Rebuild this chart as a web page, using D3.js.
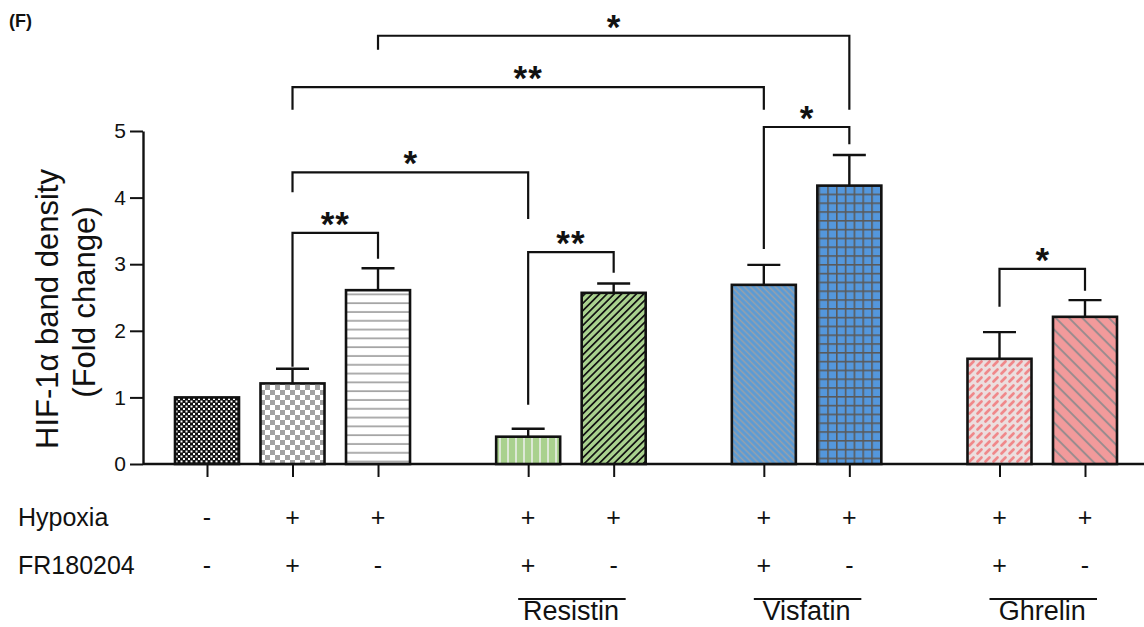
<!DOCTYPE html>
<html>
<head>
<meta charset="utf-8">
<script src="https://cdn.jsdelivr.net/npm/d3@7"></script>
<style>
  body { margin: 0; background: #fff; }
  svg { display: block; font-family: Arial, "Liberation Sans", sans-serif; }
</style>
</head>
<body>
<svg id="chart"></svg>
<script>
const svgWidth = 1144;
const svgHeight = 627;

// data
const groups = ['ctrl', 'ctrl', 'ctrl', 'Resistin', 'Resistin', 'Visfatin', 'Visfatin', 'Ghrelin', 'Ghrelin'];
const means = [1.0, 1.21, 2.61, 0.41, 2.57, 2.69, 4.18, 1.58, 2.21];
const errors = [0, 0.22, 0.33, 0.12, 0.14, 0.30, 0.46, 0.40, 0.25];
const hypoxia = ['-', '+', '+', '+', '+', '+', '+', '+', '+'];
const fr180204 = ['-', '+', '-', '+', '-', '+', '-', '+', '-'];
const patterns = ['p0', 'p1', 'p2', 'p3', 'p4', 'p5', 'p6', 'p7', 'p8'];
const yTicks = [0, 1, 2, 3, 4, 5];
const groupLabels = ['Resistin', 'Visfatin', 'Ghrelin'];
// [bar a, bar b, bracket level, left leg end, right leg end, label]  (y in data units)
const brackets = [
  [1, 2, 3.47, 1.46, 3.08, '**'],
  [1, 3, 4.38, 4.08, 3.68, '*'],
  [3, 4, 3.18, 0.89, 2.87, '**'],
  [1, 5, 5.66, 5.32, 5.32, '**'],
  [5, 6, 5.06, 3.23, 4.80, '*'],
  [2, 6, 6.43, 6.22, 5.32, '*'],
  [7, 8, 2.93, 2.36, 2.60, '*']
];

const axisX = 143;
const baseY = 464;
const topY = 131;
const barW = 64;
const gap = 0.756;

// slot position: bar index plus a gap each time the group changes
let g = 0;
const slots = groups.map((d, i) => {
  if (i > 0 && d !== groups[i - 1]) g++;
  return i + g * gap;
});

const svg = d3.select("#chart")
  .attr("width", svgWidth)
  .attr("height", svgHeight);

const xScale = d3.scaleLinear()
  .domain([0, d3.max(slots)])
  .range([207, 1085]);

const yScale = d3.scaleLinear()
  .domain([0, 5])
  .range([baseY, topY]);

// patterns
const defs = svg.append("defs");
function pat(id, w, h, bg, rot) {
  const p = defs.append("pattern")
    .attr("id", id)
    .attr("patternUnits", "userSpaceOnUse")
    .attr("width", w).attr("height", h);
  if (rot) p.attr("patternTransform", `rotate(${rot})`);
  p.append("rect").attr("width", w).attr("height", h).attr("fill", bg);
  return p;
}
let p;
p = pat("p0", 5, 5, "#111");
p.append("rect").attr("x", 0.5).attr("y", 0.5).attr("width", 2).attr("height", 2).attr("fill", "#fff");
p.append("rect").attr("x", 3).attr("y", 3).attr("width", 2).attr("height", 2).attr("fill", "#fff");

p = pat("p1", 10, 10, "#fff");
p.append("rect").attr("width", 5).attr("height", 5).attr("fill", "#a2a2a2");
p.append("rect").attr("x", 5).attr("y", 5).attr("width", 5).attr("height", 5).attr("fill", "#a2a2a2");

p = pat("p2", 10, 8.8, "#fff");
p.append("line").attr("x1", 0).attr("x2", 10).attr("y1", 4).attr("y2", 4)
  .attr("stroke", "#9a9a9a").attr("stroke-width", 1.6);

p = pat("p3", 8, 10, "#a9d18e");
p.append("line").attr("x1", 4).attr("x2", 4).attr("y1", 0).attr("y2", 10)
  .attr("stroke", "#e3ebde").attr("stroke-width", 1.8);

p = pat("p4", 5.2, 10, "#a9d18e", 45);
p.append("line").attr("x1", 2.6).attr("x2", 2.6).attr("y1", 0).attr("y2", 10)
  .attr("stroke", "#111").attr("stroke-width", 1.7);

p = pat("p5", 4.4, 10, "#5b9bd5", -45);
p.append("line").attr("x1", 2.2).attr("x2", 2.2).attr("y1", 0).attr("y2", 10)
  .attr("stroke", "#9aa0a8").attr("stroke-width", 1.5);

p = pat("p6", 8.8, 8.8, "#5497dc");
p.append("line").attr("x1", 0).attr("x2", 8.8).attr("y1", 0.8).attr("y2", 0.8)
  .attr("stroke", "#5a5a5a").attr("stroke-width", 1.6);
p.append("line").attr("x1", 0.8).attr("x2", 0.8).attr("y1", 0).attr("y2", 8.8)
  .attr("stroke", "#5a5a5a").attr("stroke-width", 1.6);

p = pat("p7", 8, 8, "#ecdede");
p.append("line").attr("x1", 1.5).attr("y1", 5.5).attr("x2", 5.5).attr("y2", 1.5)
  .attr("stroke", "#f0888a").attr("stroke-width", 2.6).attr("stroke-linecap", "round");

p = pat("p8", 9.4, 10, "#f29a9b", -45);
p.append("line").attr("x1", 4.7).attr("x2", 4.7).attr("y1", 0).attr("y2", 10)
  .attr("stroke", "#9a8c8e").attr("stroke-width", 2);

// y axis
const yAxis = d3.axisLeft(yScale)
  .tickValues(yTicks)
  .tickFormat(d3.format("d"))
  .tickSize(13)
  .tickSizeOuter(0)
  .tickPadding(4);

const yg = svg.append("g")
  .attr("id", "y-axis")
  .attr("transform", `translate(${axisX}, 0)`)
  .call(yAxis);
yg.select(".domain").attr("stroke", "#111").attr("stroke-width", 2.4);
yg.selectAll(".tick line").attr("stroke", "#111").attr("stroke-width", 2);
yg.selectAll(".tick text")
  .attr("font-size", 21)
  .attr("font-family", "Arial, 'Liberation Sans', sans-serif")
  .attr("fill", "#111");

// x axis with ticks at each bar
const xAxis = d3.axisBottom(xScale)
  .tickValues(slots)
  .tickFormat("")
  .tickSize(13)
  .tickSizeOuter(0);

const xg = svg.append("g")
  .attr("id", "x-axis")
  .attr("transform", `translate(0, ${baseY})`)
  .call(xAxis);
xg.select(".domain").remove();
xg.selectAll(".tick line").attr("stroke", "#111").attr("stroke-width", 2);
xg.append("line")
  .attr("x1", axisX).attr("x2", svgWidth)
  .attr("y1", 0).attr("y2", 0)
  .attr("stroke", "#111").attr("stroke-width", 2.4);

// bars
svg.selectAll("rect.bar")
  .data(means)
  .enter()
  .append("rect")
  .attr("class", "bar")
  .attr("x", (d, i) => xScale(slots[i]) - barW / 2)
  .attr("y", d => yScale(d))
  .attr("width", barW)
  .attr("height", d => baseY - yScale(d))
  .attr("fill", (d, i) => `url(#${patterns[i]})`)
  .attr("stroke", "#111")
  .attr("stroke-width", 2.6);

// error bars
const eb = svg.append("g").attr("stroke", "#111").attr("stroke-width", 2.4);
means.forEach((m, i) => {
  if (!errors[i]) return;
  const cx = xScale(slots[i]);
  eb.append("line")
    .attr("x1", cx).attr("x2", cx)
    .attr("y1", yScale(m)).attr("y2", yScale(m + errors[i]));
  eb.append("line")
    .attr("x1", cx - 16.5).attr("x2", cx + 16.5)
    .attr("y1", yScale(m + errors[i])).attr("y2", yScale(m + errors[i]));
});

// significance brackets
const bg = svg.append("g");
brackets.forEach(([a, b, lvl, la, lb, label]) => {
  const xa = xScale(slots[a]);
  const xb = xScale(slots[b]);
  bg.append("path")
    .attr("d", `M${xa},${yScale(la)}V${yScale(lvl)}H${xb}V${yScale(lb)}`)
    .attr("fill", "none")
    .attr("stroke", "#111")
    .attr("stroke-width", 2.2);
  bg.append("text")
    .attr("x", (xa + xb) / 2)
    .attr("y", yScale(lvl) + 3)
    .attr("text-anchor", "middle")
    .attr("font-size", 35)
    .attr("font-weight", "bold")
    .attr("fill", "#111")
    .attr("letter-spacing", label.length > 1 ? 1 : 0)
    .text(label);
});

// axis title
const title = svg.append("g")
  .attr("transform", "rotate(-90)")
  .attr("font-size", 31)
  .attr("fill", "#111")
  .attr("text-anchor", "middle");
title.append("text").attr("x", -309).attr("y", 58).text("HIF-1α band density");
title.append("text").attr("x", -302).attr("y", 95).text("(Fold change)");

// panel label
svg.append("text")
  .attr("x", 9).attr("y", 27)
  .attr("font-size", 18)
  .attr("font-weight", "bold")
  .attr("fill", "#111")
  .text("(F)");

// condition rows
const rows = [["Hypoxia", hypoxia, 526], ["FR180204", fr180204, 574]];
rows.forEach(([name, vals, y]) => {
  svg.append("text")
    .attr("x", 18).attr("y", y)
    .attr("font-size", 25)
    .attr("fill", "#111")
    .text(name);
  svg.selectAll(null)
    .data(vals)
    .enter()
    .append("text")
    .attr("x", (d, i) => xScale(slots[i]))
    .attr("y", y)
    .attr("text-anchor", "middle")
    .attr("font-size", 25)
    .attr("fill", "#111")
    .text(d => d);
});

// group labels with lines
groupLabels.forEach(name => {
  const idx = d3.range(groups.length).filter(i => groups[i] === name);
  const x1 = xScale(slots[idx[0]]);
  const x2 = xScale(slots[idx[idx.length - 1]]);
  const cx = (x1 + x2) / 2;
  svg.append("line")
    .attr("x1", x1 - 10).attr("x2", x2 + 12)
    .attr("y1", 599).attr("y2", 599)
    .attr("stroke", "#111").attr("stroke-width", 2.2);
  svg.append("text")
    .attr("x", cx).attr("y", 620)
    .attr("text-anchor", "middle")
    .attr("font-size", 27)
    .attr("fill", "#111")
    .text(name);
});
</script>
</body>
</html>
